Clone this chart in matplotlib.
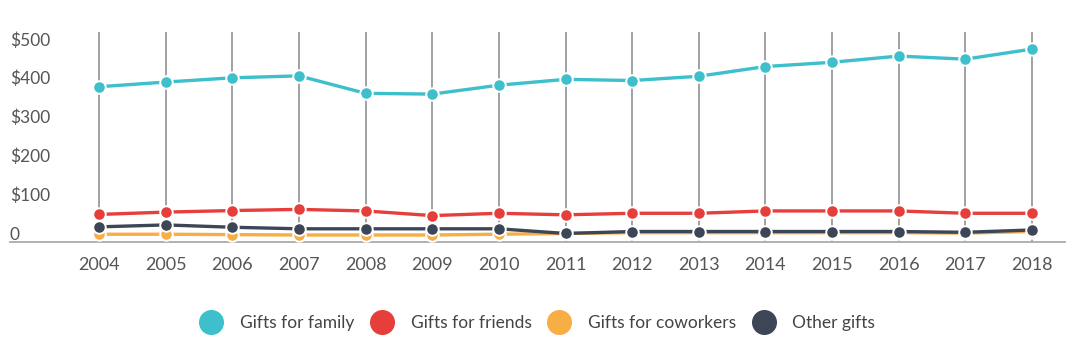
import matplotlib
matplotlib.use("Agg")
import matplotlib.pyplot as plt
from matplotlib.lines import Line2D
from matplotlib.transforms import ScaledTranslation

years = [2004, 2005, 2006, 2007, 2008, 2009, 2010, 2011, 2012, 2013, 2014, 2015, 2016, 2017, 2018]
family = [400, 412, 423, 428, 383, 381, 404, 419, 416, 427, 452, 463, 479, 471, 497]
friends = [71, 77, 81, 84, 80, 68, 74, 70, 74, 74, 80, 80, 80, 74, 74]
coworkers = [20, 20, 19, 18, 18, 18, 20, 22, 24, 24, 24, 24, 24, 23, 27]
other = [39, 44, 38, 34, 34, 34, 34, 22, 27, 27, 27, 27, 27, 25, 31]

series_names = ["Gifts for family", "Gifts for friends", "Gifts for coworkers", "Other gifts"]
colors = ["#3DBFCC", "#E63E3B", "#F6AE45", "#3D4657"]
ytick_vals = [0, 100, 200, 300, 400, 500]
ytick_labels = ["0", "$100", "$200", "$300", "$400", "$500"]

plt.rcParams['font.family'] = ['Lato', 'DejaVu Sans']

W, H = 1080, 352
fig = plt.figure(figsize=(W / 100, H / 100), dpi=100)
fig.patch.set_facecolor("white")
ax = fig.add_axes([10 / W, (H - 242) / H, 1055 / W, 210 / H])

ax.set_xlim(2004 - 89 / 66.64, 2018 + 33 / 66.64)
ax.set_ylim(0, 541)

ax.vlines(years, 0, 541, color="#9a9a9a", lw=1.3, zorder=1)

data = [family, friends, coworkers, other]
zorders = [6, 5, 3, 4]
for vals, c, z in zip(data, colors, zorders):
    ax.plot(years, vals, color=c, lw=2.4, marker="o", markersize=9,
            markeredgecolor="white", markeredgewidth=1.4, zorder=z, clip_on=False)

for s in ["top", "right", "left"]:
    ax.spines[s].set_visible(False)
ax.spines["bottom"].set_color("#aaaaaa")
ax.spines["bottom"].set_linewidth(1.3)

ax.set_xticks(years)
ax.set_xticklabels([str(y) for y in years], fontsize=13, color="#555555")
ax.tick_params(axis="x", length=0, pad=11)

ax.set_yticks(ytick_vals)
ax.set_yticklabels(ytick_labels, fontsize=12.5, color="#555555")
ax.tick_params(axis="y", length=0, pad=0)
offset = ScaledTranslation(0, 9 / 100, fig.dpi_scale_trans)
for lab in ax.get_yticklabels():
    lab.set_horizontalalignment("left")
    lab.set_transform(lab.get_transform() + offset)

handles = [Line2D([], [], linestyle="none", marker="o", markersize=17,
                  markerfacecolor=c, markeredgecolor=c) for c in colors]
fig.legend(handles, series_names, loc="center", bbox_to_anchor=(538 / W, (H - 323) / H),
           ncol=4, frameon=False, fontsize=12.5, handlelength=1.2,
           handletextpad=1.05, columnspacing=1.0, labelcolor="#444444")

fig.savefig("out.png", dpi=100, facecolor="white")
